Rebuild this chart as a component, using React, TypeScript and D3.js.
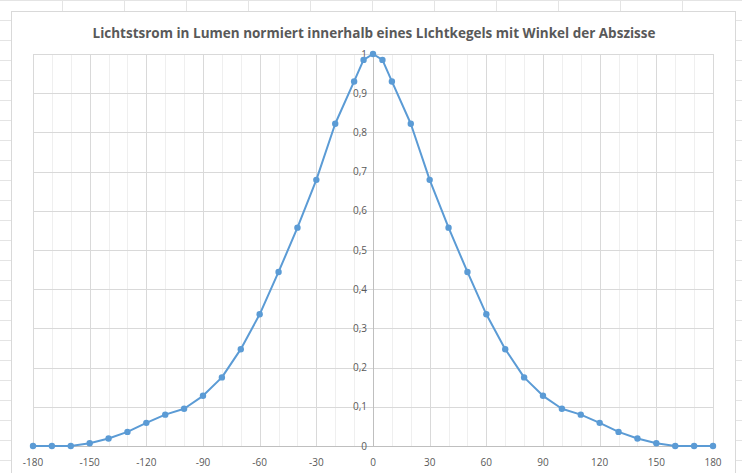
import React, { useEffect, useRef } from 'react';
import * as d3 from 'd3';

// Winkel (Grad) und normierter Lichtstrom
const angles = [
  -180, -170, -160, -150, -140, -130, -120, -110, -100, -90, -80, -70, -60, -50, -40, -30, -20, -10, -5,
  0, 5, 10, 20, 30, 40, 50, 60, 70, 80, 90, 100, 110, 120, 130, 140, 150, 160, 170, 180,
];
const values = [
  0, 0, 0, 0.007, 0.019, 0.036, 0.059, 0.08, 0.095, 0.128, 0.175, 0.247, 0.336, 0.444, 0.557, 0.679, 0.822, 0.93, 0.985,
  1, 0.985, 0.93, 0.822, 0.679, 0.557, 0.444, 0.336, 0.247, 0.175, 0.128, 0.095, 0.08, 0.059, 0.036, 0.019, 0.007, 0, 0, 0,
];
const xTicks = [-180, -150, -120, -90, -60, -30, 0, 30, 60, 90, 120, 150, 180];
const yTicks = [0, 0.1, 0.2, 0.3, 0.4, 0.5, 0.6, 0.7, 0.8, 0.9, 1];
const title = 'Lichtstsrom in Lumen normiert innerhalb eines LIchtkegels mit Winkel der Abszisse';

export default function App() {
  const svgRef = useRef<SVGSVGElement>(null);

  useEffect(() => {
    document.body.style.margin = '0';
    const W = 742;
    const H = 473;
    const svg = d3.select(svgRef.current);
    svg.selectAll('*').remove();
    svg.attr('width', W).attr('height', H);

    const font = "'Open Sans', 'Liberation Sans', sans-serif";

    svg.append('rect').attr('width', W).attr('height', H).attr('fill', '#ffffff');

    // spreadsheet cells behind the chart
    const sheet = svg.append('g').attr('stroke', '#e4e4e4').attr('stroke-width', 1);
    d3.range(0, H, 20).forEach((y) => {
      sheet.append('line').attr('x1', 0).attr('x2', W).attr('y1', y + 0.5).attr('y2', y + 0.5);
    });
    d3.range(62, W, 62).forEach((x) => {
      sheet.append('line').attr('x1', x + 0.5).attr('x2', x + 0.5).attr('y1', 0).attr('y2', H);
    });

    // chart area
    svg.append('rect')
      .attr('x', 11.5).attr('y', 11.5).attr('width', 724).attr('height', 470)
      .attr('fill', '#ffffff').attr('stroke', '#d9d9d9');

    const x = d3.scaleLinear().domain([-180, 180]).range([33, 713]);
    const y = d3.scaleLinear().domain([0, 1]).range([446, 54]);

    // gridlines
    const grid = svg.append('g');
    d3.range(-180, 181, 10).forEach((a) => {
      grid.append('line')
        .attr('x1', Math.round(x(a)) + 0.5).attr('x2', Math.round(x(a)) + 0.5)
        .attr('y1', y(1)).attr('y2', y(0))
        .attr('stroke', a % 30 === 0 ? '#d9d9d9' : '#efefef');
    });
    yTicks.forEach((t) => {
      grid.append('line')
        .attr('x1', x(-180)).attr('x2', x(180))
        .attr('y1', Math.round(y(t)) + 0.5).attr('y2', Math.round(y(t)) + 0.5)
        .attr('stroke', '#d9d9d9');
    });

    // axes crossing at 0
    svg.append('line')
      .attr('x1', x(-180)).attr('x2', x(180))
      .attr('y1', Math.round(y(0)) + 0.5).attr('y2', Math.round(y(0)) + 0.5)
      .attr('stroke', '#bfbfbf');
    svg.append('line')
      .attr('x1', Math.round(x(0)) + 0.5).attr('x2', Math.round(x(0)) + 0.5)
      .attr('y1', y(1)).attr('y2', y(0))
      .attr('stroke', '#bfbfbf');

    // tick labels
    const fmt = (v: number) => d3.format('.1~f')(v).replace('.', ',');
    svg.append('g').selectAll('text').data(yTicks).join('text')
      .attr('x', x(0) - 6).attr('y', (d) => y(d)).attr('dy', '0.35em')
      .attr('text-anchor', 'end').attr('font-family', font).attr('font-size', 10)
      .attr('fill', '#595959').text((d) => fmt(d));
    svg.append('g').selectAll('text').data(xTicks).join('text')
      .attr('x', (d) => x(d)).attr('y', 462).attr('dy', '0.35em')
      .attr('text-anchor', 'middle').attr('font-family', font).attr('font-size', 10)
      .attr('fill', '#595959').text((d) => String(d));

    // title
    svg.append('text')
      .attr('x', 374).attr('y', 38)
      .attr('text-anchor', 'middle').attr('font-family', font).attr('font-weight', 'bold')
      .attr('font-size', 14).attr('fill', '#595959')
      .attr('textLength', 563).attr('lengthAdjust', 'spacingAndGlyphs')
      .text(title);

    // series
    const data = angles.map((a, i) => ({ a, v: values[i] }));
    const line = d3.line<{ a: number; v: number }>().x((d) => x(d.a)).y((d) => y(d.v));
    svg.append('path').datum(data)
      .attr('fill', 'none').attr('stroke', '#5b9bd5').attr('stroke-width', 2)
      .attr('stroke-linejoin', 'round').attr('d', line);
    svg.append('g').selectAll('circle').data(data).join('circle')
      .attr('cx', (d) => x(d.a)).attr('cy', (d) => y(d.v)).attr('r', 3.2)
      .attr('fill', '#5b9bd5');
  }, []);

  return (
    <div>
      <svg ref={svgRef} style={{ display: 'block' }}></svg>
    </div>
  );
}
